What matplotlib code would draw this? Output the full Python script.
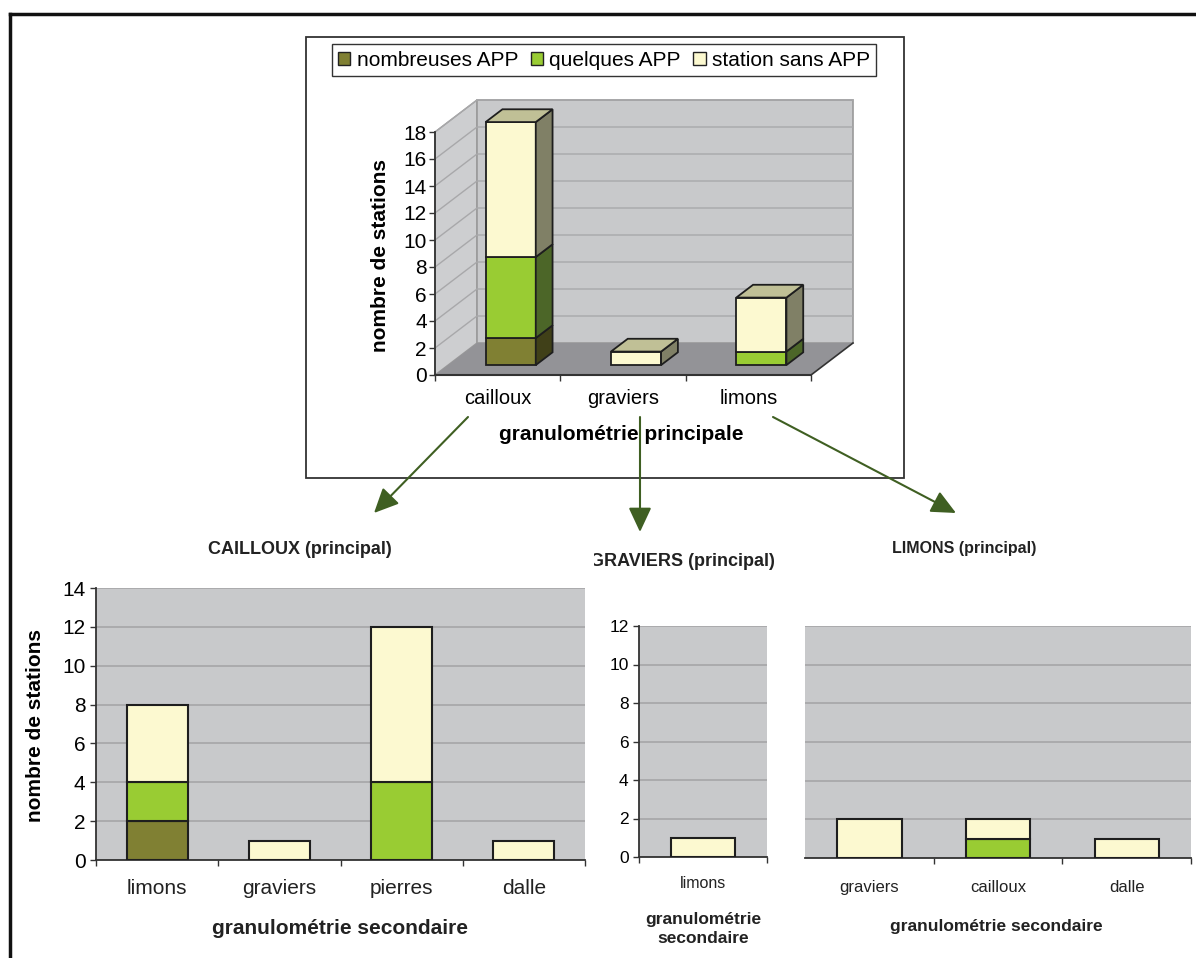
import matplotlib
matplotlib.use('Agg')
import matplotlib.pyplot as plt
from matplotlib.patches import Polygon, Rectangle, Patch, FancyArrowPatch
from matplotlib.transforms import Bbox

plt.rcParams['font.family'] = ['Liberation Sans', 'DejaVu Sans']

# data
series = ['nombreuses APP', 'quelques APP', 'station sans APP']

principal_cats = ['cailloux', 'graviers', 'limons']
principal_nombreuses = [2, 0, 0]
principal_quelques = [6, 0, 1]
principal_sans = [10, 1, 4]

cailloux_cats = ['limons', 'graviers', 'pierres', 'dalle']
cailloux_nombreuses = [2, 0, 0, 0]
cailloux_quelques = [2, 0, 4, 0]
cailloux_sans = [4, 1, 8, 1]

graviers_cats = ['limons']
graviers_nombreuses = [0]
graviers_quelques = [0]
graviers_sans = [1]

limons_cats = ['graviers', 'cailloux', 'dalle']
limons_nombreuses = [0, 0, 0]
limons_quelques = [0, 1, 0]
limons_sans = [2, 1, 1]

front = ['#808033', '#99CC33', '#FCF9D0']
side = ['#404018', '#4C6628', '#808066']
top = ['#60602A', '#7A9E3A', '#C0C096']
wall = '#C8C9CB'
floor = '#939397'
grid_c = '#A8A8AA'
edge = '#1E1E1E'
arrow_c = '#3F5F22'

W, H = 1196, 958
fig = plt.figure(figsize=(W / 100, H / 100), dpi=100)


def fx(x):
    return x / W


def fy(y):
    return 1 - y / H


def rect(l, t, r, b):
    return [l / W, 1 - b / H, (r - l) / W, (b - t) / H]


# outer frame (top and left only)
fig.add_artist(plt.Line2D([fx(10), 1], [fy(14), fy(14)], color='#111', lw=2.5))
fig.add_artist(plt.Line2D([fx(10), fx(10)], [fy(14), 0], color='#111', lw=2.5))

# box around the 3d chart
fig.add_artist(Rectangle((fx(306), fy(478)), (904 - 306) / W, (478 - 37) / H,
                         transform=fig.transFigure, fill=False, edgecolor='#333', lw=1.3))

# ---- top pseudo 3d chart ----
ax0 = fig.add_axes(rect(435, 132, 811, 375))
ncat = len(principal_cats)
ymax = 18
ax0.set_xlim(0, ncat)
ax0.set_ylim(0, ymax)
ax0.patch.set_visible(False)
DX = 42 / (376 / ncat)
DY = 32 / (243 / ymax)

ax0.add_patch(Polygon([(0, 0), (DX, DY), (DX, ymax + DY), (0, ymax)], closed=True,
                      facecolor='#CDCED0', edgecolor='#9A9A9A', lw=1, clip_on=False, zorder=0))
ax0.add_patch(Polygon([(DX, DY), (ncat + DX, DY), (ncat + DX, ymax + DY), (DX, ymax + DY)], closed=True,
                      facecolor=wall, edgecolor='#9A9A9A', lw=1.2, clip_on=False, zorder=0))
ax0.add_patch(Polygon([(0, 0), (ncat, 0), (ncat + DX, DY), (DX, DY)], closed=True,
                      facecolor=floor, edgecolor='none', clip_on=False, zorder=0.5))
ax0.plot([ncat, ncat + DX], [0, DY], color='#333', lw=1.2, clip_on=False, zorder=0.6)
ax0.plot([0, ncat], [0, 0], color='#333', lw=1.5, clip_on=False, zorder=0.6)
for v in range(2, ymax + 1, 2):
    ax0.plot([0, DX, ncat + DX], [v, v + DY, v + DY], color=grid_c, lw=1, clip_on=False, zorder=1)

bw = 0.4
f0, fd = 0.31, 0.4
stacks = [principal_nombreuses, principal_quelques, principal_sans]
for i in range(ncat):
    x0 = i + 0.5 - bw / 2 + f0 * DX
    base = f0 * DY
    last = max(k for k in range(3) if stacks[k][i] > 0)
    for k in range(3):
        h = stacks[k][i]
        if h == 0:
            continue
        ax0.add_patch(Rectangle((x0, base), bw, h, facecolor=front[k], edgecolor=edge,
                                lw=1.3, clip_on=False, zorder=3))
        ax0.add_patch(Polygon([(x0 + bw, base), (x0 + bw + fd * DX, base + fd * DY),
                               (x0 + bw + fd * DX, base + h + fd * DY), (x0 + bw, base + h)],
                              closed=True, facecolor=side[k], edgecolor=edge, lw=1.3,
                              clip_on=False, zorder=3))
        if k == last:
            ax0.add_patch(Polygon([(x0, base + h), (x0 + bw, base + h),
                                   (x0 + bw + fd * DX, base + h + fd * DY),
                                   (x0 + fd * DX, base + h + fd * DY)],
                                  closed=True, facecolor=top[k], edgecolor=edge, lw=1.3,
                                  clip_on=False, zorder=3))
        base += h

for s in ['top', 'right', 'bottom']:
    ax0.spines[s].set_visible(False)
ax0.spines['left'].set_color('#333')
ax0.spines['left'].set_linewidth(1.3)
ax0.set_yticks(range(0, ymax + 1, 2))
ax0.tick_params(axis='y', direction='out', length=4, width=1, color='#333', labelsize=15, pad=2)
ax0.set_xticks([i + 0.5 for i in range(ncat)])
ax0.set_xticklabels(principal_cats)
ax0.set_xticks(range(ncat + 1), minor=True)
ax0.tick_params(axis='x', which='major', length=0, labelsize=14.5, pad=10)
ax0.tick_params(axis='x', which='minor', direction='out', length=4.5, width=1, color='#333')
fig.text(fx(380), fy(255), 'nombre de stations', rotation=90, ha='center', va='center',
         fontsize=15, fontweight='bold')
fig.text(fx(621), fy(435), 'granulométrie principale', ha='center', va='center',
         fontsize=15, fontweight='bold')

handles = [Patch(facecolor=front[k], edgecolor='#222', label=series[k]) for k in range(3)]
leg = fig.legend(handles=handles, loc='center', bbox_to_anchor=(fx(604), fy(60)), ncol=3,
                 frameon=True, fancybox=False, edgecolor='#333', framealpha=1, fontsize=15,
                 handlelength=0.6, handleheight=0.6, handletextpad=0.3, columnspacing=0.6,
                 borderpad=0.3)
leg.get_frame().set_linewidth(1)


# ---- bottom flat charts ----
def flat_chart(pos, cats, nom, que, sans, ymax_, tick_fs, show_y=True):
    ax = fig.add_axes(pos)
    ax.set_facecolor(wall)
    n = len(cats)
    xs = [i + 0.5 for i in range(n)]
    for i in range(n):
        base = 0
        for k, vals in enumerate([nom, que, sans]):
            if vals[i] == 0:
                continue
            ax.bar(xs[i], vals[i], bottom=base, width=0.5, color=front[k], edgecolor=edge,
                   lw=1.5, zorder=3)
            base += vals[i]
    ax.set_xlim(0, n)
    ax.set_ylim(0, ymax_)
    ax.set_yticks(range(0, ymax_ + 1, 2))
    ax.yaxis.grid(True, color=grid_c, lw=1.3)
    ax.set_axisbelow(True)
    ax.spines['top'].set_visible(False)
    ax.spines['right'].set_visible(False)
    ax.spines['bottom'].set_color('#333')
    ax.spines['bottom'].set_linewidth(1.3)
    if show_y:
        ax.spines['left'].set_color('#333')
        ax.spines['left'].set_linewidth(1.3)
        ax.tick_params(axis='y', direction='out', length=4.5, width=1, color='#333',
                       labelsize=tick_fs[0], pad=3)
    else:
        ax.spines['left'].set_visible(False)
        ax.tick_params(axis='y', length=0, labelleft=False)
    ax.set_xticks(xs)
    ax.set_xticklabels(cats)
    minor = list(range(n + 1)) if show_y else list(range(1, n + 1))
    ax.set_xticks(minor, minor=True)
    ax.tick_params(axis='x', which='major', length=0, labelsize=tick_fs[1], pad=tick_fs[2],
                   labelcolor='#222')
    ax.tick_params(axis='x', which='minor', direction='out', length=4.5, width=1, color='#333')
    return ax


ax1 = flat_chart(rect(96, 588, 585, 860), cailloux_cats, cailloux_nombreuses,
                 cailloux_quelques, cailloux_sans, 14, (15, 15, 14))
ax2 = flat_chart(rect(639, 626, 767, 857), graviers_cats, graviers_nombreuses,
                 graviers_quelques, graviers_sans, 12, (12.5, 11.5, 14))
ax3 = flat_chart(rect(805, 626, 1191, 858), limons_cats, limons_nombreuses,
                 limons_quelques, limons_sans, 12, (12, 12, 16), show_y=False)

fig.text(fx(300), fy(550), 'CAILLOUX (principal)', ha='center', va='center',
         fontsize=13, fontweight='bold', color='#222')
t2 = fig.text(fx(682), fy(561), 'GRAVIERS (principal)', ha='center', va='center',
              fontsize=13, fontweight='bold', color='#222')
t2.set_clip_box(Bbox.from_extents(594, 0, W, H))
t2.set_clip_on(True)
fig.text(fx(964), fy(548), 'LIMONS (principal)', ha='center', va='center',
         fontsize=11.5, fontweight='bold', color='#222')

fig.text(fx(36), fy(725), 'nombre de stations', rotation=90, ha='center', va='center',
         fontsize=15, fontweight='bold')
fig.text(fx(340), fy(928), 'granulométrie secondaire', ha='center', va='center',
         fontsize=15, fontweight='bold', color='#222')
fig.text(fx(703), fy(929), 'granulométrie\nsecondaire', ha='center', va='center',
         fontsize=12.5, fontweight='bold', color='#222', linespacing=1.3)
fig.text(fx(996), fy(927), 'granulométrie secondaire', ha='center', va='center',
         fontsize=12.5, fontweight='bold', color='#222')

# arrows from the main chart to the detail charts
for a, b in [((468, 417), (374, 513)), ((640, 417), (640, 532)), ((773, 417), (956, 513))]:
    fig.add_artist(FancyArrowPatch((fx(a[0]), fy(a[1])), (fx(b[0]), fy(b[1])),
                                   transform=fig.transFigure,
                                   arrowstyle='-|>,head_length=0.75,head_width=0.35',
                                   mutation_scale=20, color=arrow_c, lw=1.5,
                                   shrinkA=0, shrinkB=0))

fig.savefig('out.png', dpi=100)
